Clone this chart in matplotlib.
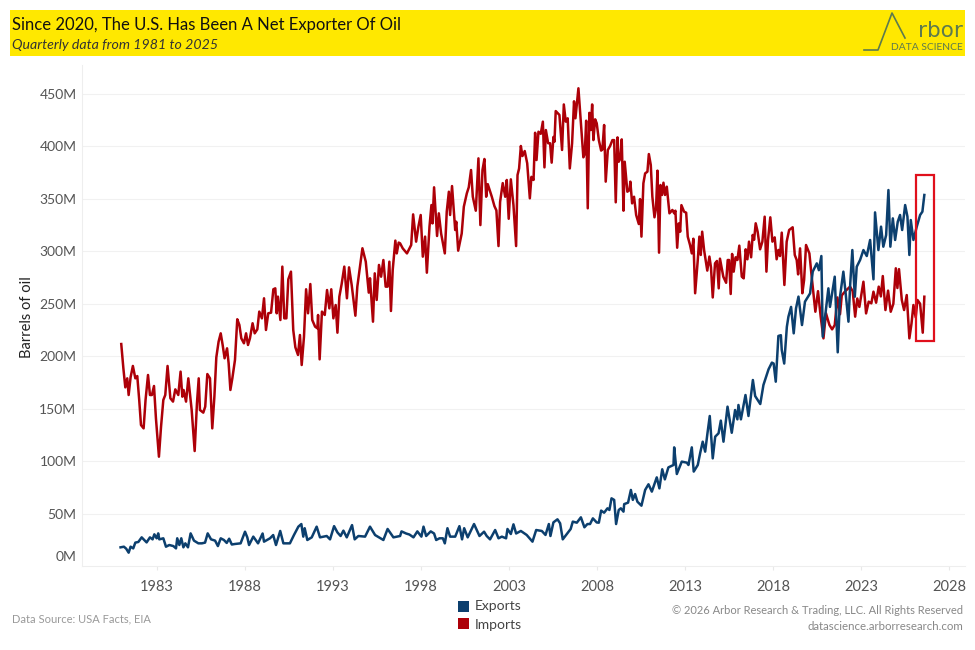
import matplotlib
matplotlib.use("Agg")
import matplotlib.pyplot as plt
from matplotlib.lines import Line2D
from matplotlib.patches import Rectangle

imports_year = [
    1980.97, 1981.09, 1981.20, 1981.31, 1981.39, 1981.50, 1981.63, 1981.77, 1981.88, 1981.99,
    1982.09, 1982.24, 1982.35, 1982.49, 1982.60, 1982.71, 1982.83, 1982.94, 1983.11, 1983.23,
    1983.36, 1983.47, 1983.60, 1983.76, 1983.91, 1984.04, 1984.21, 1984.34, 1984.44, 1984.51,
    1984.65, 1984.78, 1984.97, 1985.14, 1985.27, 1985.37, 1985.44, 1985.63, 1985.74, 1985.86,
    1986.01, 1986.14, 1986.26, 1986.37, 1986.50, 1986.62, 1986.73, 1986.84, 1986.98, 1987.07,
    1987.17, 1987.28, 1987.43, 1987.56, 1987.68, 1987.79, 1987.94, 1988.06, 1988.17, 1988.28,
    1988.43, 1988.55, 1988.70, 1988.81, 1988.96, 1989.08, 1989.19, 1989.32, 1989.48, 1989.61,
    1989.72, 1989.80, 1989.87, 1990.01, 1990.12, 1990.23, 1990.35, 1990.46, 1990.61, 1990.74,
    1990.86, 1991.01, 1991.12, 1991.22, 1991.35, 1991.47, 1991.58, 1991.71, 1991.82, 1991.98,
    1992.11, 1992.15, 1992.24, 1992.37, 1992.53, 1992.66, 1992.79, 1992.90, 1993.02, 1993.15,
    1993.25, 1993.36, 1993.49, 1993.64, 1993.79, 1993.91, 1994.06, 1994.27, 1994.38, 1994.53,
    1994.67, 1994.86, 1995.03, 1995.10, 1995.27, 1995.37, 1995.48, 1995.61, 1995.73, 1995.86,
    1995.99, 1996.10, 1996.20, 1996.29, 1996.39, 1996.54, 1996.62, 1996.73, 1996.81, 1996.96,
    1997.20, 1997.44, 1997.55, 1997.72, 1997.85, 1997.98, 1998.10, 1998.23, 1998.33, 1998.48,
    1998.59, 1998.65, 1998.74, 1998.91, 1999.01, 1999.14, 1999.35, 1999.46, 1999.58, 1999.65,
    1999.76, 1999.94, 2000.00, 2000.11, 2000.31, 2000.43, 2000.60, 2000.71, 2000.84, 2000.94,
    2001.11, 2001.26, 2001.37, 2001.49, 2001.60, 2001.70, 2001.79, 2002.02, 2002.17, 2002.28,
    2002.40, 2002.49, 2002.64, 2002.78, 2002.87, 2002.98, 2003.10, 2003.25, 2003.40, 2003.48,
    2003.57, 2003.67, 2003.76, 2003.89, 2004.03, 2004.18, 2004.27, 2004.39, 2004.48, 2004.56,
    2004.67, 2004.80, 2004.92, 2005.01, 2005.09, 2005.22, 2005.33, 2005.42, 2005.52, 2005.58,
    2005.65, 2005.86, 2006.01, 2006.11, 2006.22, 2006.33, 2006.45, 2006.58, 2006.69, 2006.77,
    2006.94, 2007.07, 2007.22, 2007.30, 2007.38, 2007.47, 2007.56, 2007.64, 2007.72, 2007.79,
    2007.89, 2007.98, 2008.10, 2008.23, 2008.30, 2008.40, 2008.49, 2008.61, 2008.74, 2008.87,
    2008.97, 2009.06, 2009.16, 2009.23, 2009.33, 2009.40, 2009.50, 2009.57, 2009.72, 2009.84,
    2009.89, 2009.99, 2010.10, 2010.22, 2010.37, 2010.44, 2010.52, 2010.63, 2010.73, 2010.86,
    2010.94, 2011.05, 2011.14, 2011.26, 2011.35, 2011.43, 2011.52, 2011.60, 2011.69, 2011.77,
    2011.86, 2011.96, 2012.11, 2012.28, 2012.38, 2012.45, 2012.55, 2012.64, 2012.72, 2012.79,
    2012.94, 2013.06, 2013.15, 2013.28, 2013.38, 2013.47, 2013.57, 2013.72, 2013.81, 2013.89,
    2013.97, 2014.08, 2014.26, 2014.38, 2014.47, 2014.57, 2014.70, 2014.81, 2014.91, 2014.98,
    2015.17, 2015.33, 2015.42, 2015.50, 2015.59, 2015.67, 2015.76, 2015.87, 2015.97, 2016.08,
    2016.22, 2016.33, 2016.44, 2016.54, 2016.63, 2016.75, 2016.84, 2016.92, 2017.01, 2017.12,
    2017.26, 2017.39, 2017.52, 2017.62, 2017.71, 2017.84, 2017.96, 2018.09, 2018.20, 2018.30,
    2018.39, 2018.49, 2018.64, 2018.77, 2018.91, 2019.11, 2019.23, 2019.34, 2019.42, 2019.53,
    2019.66, 2019.76, 2019.87, 2020.06, 2020.21, 2020.40, 2020.55, 2020.70, 2020.86, 2021.00,
    2021.20, 2021.35, 2021.50, 2021.65, 2021.80, 2021.90, 2022.10, 2022.37, 2022.52, 2022.66,
    2022.78, 2022.90, 2023.13, 2023.28, 2023.43, 2023.58, 2023.70, 2023.85, 2024.00, 2024.12,
    2024.23, 2024.38, 2024.53, 2024.68, 2024.83, 2024.97, 2025.06, 2025.15, 2025.31, 2025.44,
    2025.59, 2025.74, 2025.86, 2025.97, 2026.10, 2026.20, 2026.35, 2026.50, 2026.59,
]
imports_val = [
    211.6, 188.5, 170.3, 178.9, 163.0, 179.9, 190.7, 178.9, 181.1, 158.3,
    134.4, 131.2, 158.3, 182.1, 163.0, 163.0, 171.6, 140.8, 104.2, 132.8,
    158.3, 163.0, 190.7, 159.9, 156.7, 168.4, 163.0, 185.3, 161.4, 167.8,
    156.7, 178.9, 148.7, 109.6, 155.1, 178.9, 148.7, 146.2, 151.9, 183.0,
    178.9, 131.2, 161.4, 198.9, 213.9, 221.8, 210.7, 198.0, 207.5, 193.2,
    167.8, 178.9, 196.4, 235.2, 229.8, 217.0, 212.3, 221.8, 210.7, 217.0,
    231.4, 221.8, 225.6, 242.5, 236.1, 255.2, 225.0, 240.9, 241.5, 263.8,
    264.7, 240.9, 256.8, 234.5, 285.4, 236.1, 236.1, 273.3, 280.6, 225.0,
    208.5, 201.2, 220.2, 191.6, 218.6, 263.8, 240.9, 268.8, 234.5, 228.2,
    226.6, 239.3, 197.0, 242.5, 239.3, 263.1, 245.6, 263.8, 236.1, 248.8,
    222.4, 256.8, 268.8, 285.4, 255.2, 284.7, 267.9, 238.6, 266.3, 285.4,
    302.9, 290.1, 260.6, 274.3, 232.9, 279.0, 253.6, 287.0, 275.8, 291.7,
    266.3, 266.3, 290.1, 243.1, 282.2, 310.2, 298.0, 308.3, 307.6, 302.8,
    298.0, 306.0, 335.2, 309.2, 323.5, 334.6, 294.9, 314.0, 279.6, 323.5,
    344.1, 326.6, 361.0, 314.6, 336.2, 317.0, 298.0, 337.8, 356.8, 334.6,
    362.2, 320.3, 328.2, 300.6, 317.0, 342.5, 355.2, 361.0, 377.5, 352.0,
    338.7, 388.6, 325.0, 377.5, 388.0, 352.0, 364.0, 352.0, 343.0, 339.0,
    305.0, 347.0, 365.0, 352.0, 368.0, 331.0, 368.6, 344.0, 305.0, 372.7,
    379.0, 400.4, 390.8, 395.6, 383.9, 350.5, 371.0, 368.0, 413.0, 387.0,
    414.0, 412.0, 423.6, 380.0, 415.6, 403.0, 403.0, 384.5, 409.0, 404.5,
    433.7, 430.0, 396.6, 440.0, 423.6, 426.8, 379.0, 403.0, 443.0, 426.8,
    455.4, 425.0, 389.6, 393.0, 424.5, 341.0, 432.0, 415.6, 440.0, 406.0,
    425.8, 422.0, 406.0, 396.0, 397.0, 420.4, 366.4, 396.6, 400.4, 406.0,
    406.0, 346.7, 408.6, 385.4, 388.6, 406.7, 338.7, 385.4, 356.8, 358.4,
    366.4, 345.7, 352.0, 334.6, 326.0, 349.8, 314.0, 364.8, 374.3, 375.9,
    392.7, 382.3, 352.0, 332.4, 341.0, 376.9, 298.7, 363.2, 353.7, 365.4,
    353.7, 361.6, 336.2, 339.4, 336.2, 338.7, 303.4, 326.6, 318.7, 344.0,
    337.8, 336.8, 314.0, 306.0, 298.0, 312.0, 260.0, 291.7, 314.0, 296.5,
    318.7, 301.0, 281.6, 295.0, 284.7, 256.0, 288.5, 290.8, 264.7, 293.0,
    275.8, 270.0, 291.7, 291.7, 259.3, 297.5, 280.6, 294.3, 291.7, 305.4,
    275.8, 274.2, 301.9, 292.4, 309.2, 294.3, 315.6, 311.0, 326.7, 318.7,
    301.9, 309.2, 333.0, 280.6, 310.8, 332.4, 309.2, 313.3, 292.4, 301.3,
    295.5, 317.8, 267.9, 309.2, 320.3, 322.9, 296.5, 291.7, 278.0, 302.8,
    260.0, 272.7, 306.0, 298.0, 272.6, 242.4, 262.0, 238.0, 217.0, 241.0,
    229.7, 225.6, 229.7, 256.0, 240.0, 258.0, 262.0, 266.3, 262.0, 237.7,
    255.0, 247.0, 271.0, 240.8, 252.0, 250.4, 261.5, 251.0, 266.3, 257.0,
    276.4, 244.0, 262.5, 242.4, 250.0, 283.8, 265.0, 283.0, 253.6, 244.0,
    258.3, 217.0, 231.0, 248.8, 237.0, 253.6, 250.0, 222.4, 256.7,
]

exports_year = [
    1980.93, 1981.12, 1981.25, 1981.39, 1981.50, 1981.65, 1981.77, 1981.94, 1982.13, 1982.28,
    1982.41, 1982.60, 1982.75, 1982.85, 1982.98, 1983.07, 1983.13, 1983.36, 1983.51, 1983.70,
    1983.93, 1984.08, 1984.15, 1984.27, 1984.38, 1984.50, 1984.61, 1984.76, 1984.91, 1985.10,
    1985.35, 1985.55, 1985.73, 1985.88, 1986.07, 1986.30, 1986.46, 1986.62, 1986.80, 1986.96,
    1987.10, 1987.25, 1987.43, 1987.75, 1988.00, 1988.13, 1988.23, 1988.47, 1988.74, 1989.00,
    1989.08, 1989.42, 1989.60, 1989.76, 1990.00, 1990.18, 1990.55, 1990.78, 1991.03, 1991.20,
    1991.31, 1991.39, 1991.54, 1991.79, 1992.07, 1992.26, 1992.64, 1992.83, 1993.06, 1993.25,
    1993.43, 1993.59, 1993.78, 1994.08, 1994.23, 1994.44, 1994.82, 1995.10, 1995.39, 1995.86,
    1996.10, 1996.43, 1996.81, 1996.89, 1997.15, 1997.34, 1997.57, 1997.79, 1998.02, 1998.14,
    1998.29, 1998.55, 1998.74, 1998.86, 1999.05, 1999.24, 1999.35, 1999.50, 1999.65, 1999.94,
    2000.18, 2000.33, 2000.45, 2000.65, 2001.01, 2001.32, 2001.58, 2001.73, 2001.92, 2002.21,
    2002.40, 2002.59, 2002.83, 2002.91, 2003.10, 2003.25, 2003.40, 2003.67, 2004.00, 2004.33,
    2004.54, 2004.86, 2005.07, 2005.26, 2005.35, 2005.52, 2005.75, 2005.90, 2006.05, 2006.28,
    2006.50, 2006.62, 2006.85, 2007.08, 2007.28, 2007.45, 2007.60, 2007.76, 2007.98, 2008.10,
    2008.23, 2008.40, 2008.59, 2008.70, 2008.82, 2008.97, 2009.08, 2009.23, 2009.35, 2009.50,
    2009.54, 2009.76, 2009.92, 2010.03, 2010.16, 2010.29, 2010.52, 2010.73, 2010.92, 2011.11,
    2011.39, 2011.54, 2011.70, 2011.85, 2012.05, 2012.34, 2012.38, 2012.53, 2012.81, 2013.10,
    2013.19, 2013.38, 2013.49, 2013.72, 2013.86, 2014.00, 2014.14, 2014.27, 2014.40, 2014.57,
    2014.71, 2014.90, 2015.03, 2015.18, 2015.41, 2015.65, 2015.84, 2015.97, 2016.03, 2016.17,
    2016.43, 2016.60, 2016.85, 2016.98, 2017.27, 2017.45, 2017.74, 2017.93, 2018.03, 2018.15,
    2018.30, 2018.44, 2018.49, 2018.63, 2018.78, 2018.87, 2019.02, 2019.17, 2019.30, 2019.44,
    2019.64, 2019.81, 2020.10, 2020.25, 2020.48, 2020.60, 2020.74, 2020.82, 2021.00, 2021.14,
    2021.23, 2021.35, 2021.50, 2021.67, 2021.80, 2021.99, 2022.12, 2022.28, 2022.38, 2022.50,
    2022.64, 2022.75, 2022.94, 2023.13, 2023.32, 2023.51, 2023.70, 2023.79, 2023.98, 2024.13,
    2024.26, 2024.42, 2024.55, 2024.66, 2024.80, 2024.93, 2025.08, 2025.21, 2025.33, 2025.50,
    2025.63, 2025.74, 2025.82, 2025.97, 2026.16, 2026.35, 2026.48, 2026.59,
]
exports_val = [
    17.8, 18.4, 16.5, 12.7, 18.4, 16.8, 22.3, 22.9, 27.3, 24.8,
    22.5, 27.3, 25.4, 30.2, 26.4, 31.1, 25.4, 26.4, 18.4, 20.0,
    19.0, 16.8, 26.4, 20.0, 26.4, 17.8, 21.6, 17.8, 31.1, 24.2,
    21.6, 21.6, 22.3, 31.1, 25.4, 24.2, 19.0, 26.4, 24.8, 22.0,
    26.0, 20.5, 21.0, 21.6, 32.7, 27.3, 20.0, 28.0, 21.6, 31.0,
    23.2, 26.4, 29.5, 20.0, 33.4, 21.6, 21.6, 29.5, 37.5, 40.0,
    28.0, 36.0, 24.8, 27.3, 37.5, 27.3, 28.6, 25.4, 38.0, 32.0,
    28.6, 33.7, 27.3, 39.0, 25.4, 28.6, 28.0, 37.5, 29.5, 24.8,
    35.3, 27.3, 28.6, 33.0, 31.0, 30.0, 27.3, 33.0, 28.0, 37.5,
    28.6, 33.0, 31.0, 24.8, 26.4, 26.4, 21.6, 36.0, 28.0, 28.0,
    38.0, 25.4, 36.0, 27.3, 40.0, 28.6, 32.7, 28.6, 25.4, 34.3,
    26.4, 28.0, 26.4, 35.3, 30.5, 39.7, 31.0, 33.4, 29.6, 23.2,
    34.3, 33.4, 29.6, 40.0, 28.6, 41.6, 44.5, 40.7, 25.4, 30.5,
    35.3, 42.3, 41.3, 46.4, 36.9, 40.0, 40.0, 45.4, 41.5, 41.3,
    52.8, 50.8, 55.0, 53.4, 64.5, 63.0, 40.0, 53.4, 55.0, 51.8,
    59.0, 60.4, 72.5, 63.0, 68.6, 61.3, 57.5, 72.5, 77.9, 70.9,
    84.5, 74.0, 92.2, 82.6, 94.0, 96.3, 113.1, 87.7, 99.5, 98.5,
    96.3, 113.1, 90.0, 96.3, 108.0, 118.5, 109.0, 126.5, 143.0, 102.6,
    123.3, 126.5, 138.6, 118.5, 151.9, 127.0, 148.7, 139.8, 153.5, 139.8,
    163.0, 143.0, 177.3, 162.0, 154.4, 172.6, 187.5, 193.9, 193.0, 175.7,
    219.3, 220.0, 206.0, 193.0, 228.0, 237.7, 247.0, 221.8, 245.6, 256.8,
    229.7, 252.0, 259.9, 280.6, 288.5, 282.0, 295.5, 218.6, 245.0, 264.7,
    247.0, 260.0, 275.8, 203.7, 256.7, 280.6, 260.0, 232.9, 269.0, 301.2,
    256.7, 285.3, 291.7, 301.2, 295.5, 310.8, 273.3, 337.1, 301.2, 323.5,
    304.4, 315.5, 358.4, 304.4, 331.4, 310.8, 328.2, 334.6, 320.3, 344.1,
    333.0, 296.5, 329.8, 310.8, 323.5, 334.6, 337.8, 353.7,
]

y_ticks = [50, 100, 150, 200, 250, 300, 350, 400, 450]
x_ticks = [1983, 1988, 1993, 1998, 2003, 2008, 2013, 2018, 2023, 2028]

IMPORT_COLOR = "#ad0008"
EXPORT_COLOR = "#0c3f6e"
TEXT_COLOR = "#555555"
GRID_COLOR = "#f1f1f1"
LOGO_COLOR = "#5d7a4e"

plt.rcParams["font.family"] = "Lato"

fig = plt.figure(figsize=(9.75, 6.5), dpi=100)
W, H = 975, 650
ax = fig.add_axes([82 / W, 1 - 566 / H, (965 - 82) / W, (566 - 65) / H])

ax.plot(imports_year, imports_val, color=IMPORT_COLOR, lw=1.8, solid_joinstyle="round")
ax.plot(exports_year, exports_val, color=EXPORT_COLOR, lw=1.8, solid_joinstyle="round")

# red box around the latest readings
ax.add_patch(Rectangle((2026.13, 214.5), 1.02, 158.2, fill=False, edgecolor="#e0101c", lw=1.6, zorder=5))

ax.set_xlim(1978.74, 2028.9)
ax.set_ylim(0, 477.6)
ax.set_xticks(x_ticks)
ax.set_yticks(y_ticks)
ax.set_yticklabels([f"{v}M" for v in y_ticks])
ax.annotate("0M", xy=(0, 0), xycoords=("axes fraction", "data"), xytext=(-6, 9),
            textcoords="offset pixels", ha="right", va="center", fontsize=10, color=TEXT_COLOR)
ax.grid(axis="y", color=GRID_COLOR, lw=0.8)
ax.set_axisbelow(True)
ax.tick_params(axis="y", length=0, pad=4, labelsize=10, labelcolor=TEXT_COLOR)
ax.tick_params(axis="x", length=3, color="#e8e8e8", pad=7, labelsize=10.5, labelcolor=TEXT_COLOR)
for side in ["top", "right"]:
    ax.spines[side].set_visible(False)
for side in ["left", "bottom"]:
    ax.spines[side].set_color("#eeeeee")
ax.set_ylabel("Barrels of oil", fontsize=10.5, color="#222222", labelpad=0)
ax.yaxis.set_label_coords((34 - 82) / (965 - 82), (566 - 317) / (566 - 65))

# header band, drawn in pixel style figure coords
def fx(px):
    return px / W

def fy(px):
    return 1 - px / H

fig.patches.append(Rectangle((fx(10), fy(56)), fx(955), 46 / H, transform=fig.transFigure,
                             facecolor="#ffe800", edgecolor="none", zorder=-1))
fig.text(fx(12), fy(25), "Since 2020, The U.S. Has Been A Net Exporter Of Oil", fontsize=12,
         color="#111111", va="center")
fig.text(fx(12), fy(45), "Quarterly data from 1981 to 2025", fontsize=10.2, style="italic",
         color="#333333", va="center")

# logo
fig.add_artist(Line2D([fx(864), fx(878), fx(892), fx(905)], [fy(50), fy(50), fy(13), fy(38)],
                      color=LOGO_COLOR, lw=1.2))
fig.text(fx(963), fy(37), "rbor", fontsize=15.5, color=LOGO_COLOR, ha="right", va="baseline",
         family="DejaVu Sans")
fig.text(fx(963), fy(48), "DATA SCIENCE", fontsize=7.4, color=LOGO_COLOR, ha="right", va="center")

# legend
for label, color, top, text_y in [("Exports", EXPORT_COLOR, 601, 606), ("Imports", IMPORT_COLOR, 618, 625)]:
    fig.patches.append(Rectangle((fx(458), fy(top + 11)), 11 / W, 11 / H, transform=fig.transFigure,
                                 facecolor=color, edgecolor="none"))
    fig.text(fx(475), fy(text_y), label, fontsize=10, color="#444444", va="center")

# footer
fig.text(fx(12), fy(619), "Data Source: USA Facts, EIA", fontsize=8, color="#999999", va="center")
fig.text(fx(963), fy(611), "\u00a9 2026 Arbor Research & Trading, LLC. All Rights Reserved", fontsize=8,
         color="#888888", ha="right", va="center")
fig.text(fx(963), fy(626), "datascience.arborresearch.com", fontsize=8.3, color="#888888",
         ha="right", va="center")

fig.savefig("out.png", dpi=100, facecolor="white")
